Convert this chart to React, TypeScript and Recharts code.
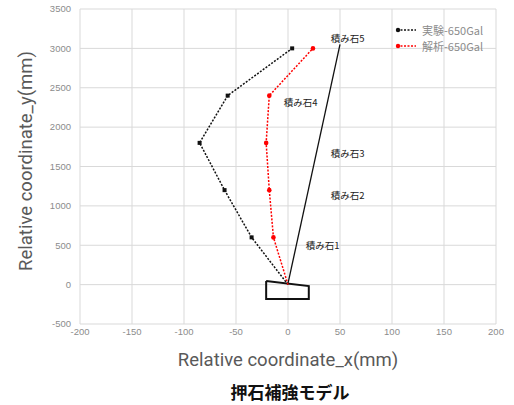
import React from "react";
import {
  ScatterChart,
  Scatter,
  XAxis,
  YAxis,
  CartesianGrid,
  Label,
} from "recharts";

// measured displacement (実験) and analysis (解析) at 650Gal
const EXP_X = [0, -35, -61, -85, -58, 4];
const EXP_Y = [0, 600, 1200, 1800, 2400, 3000];
const ANA_X = [0, -14, -18, -21, -18, 24];
const ANA_Y = [0, 600, 1200, 1800, 2400, 3000];

// initial wall line and the base stone outline
const WALL_X = [0, 50];
const WALL_Y = [15, 3050];
const BASE_X = [-21, 20, 20, -21, -21];
const BASE_Y = [46, -18, -183, -183, 46];

const STONE_NAMES = ["積み石1", "積み石2", "積み石3", "積み石4", "積み石5"];
const STONE_X = [17, 41, 41, -4, 41];
const STONE_Y = [505, 1140, 1670, 2320, 3130];

const X_TICKS = [-200, -150, -100, -50, 0, 50, 100, 150, 200];
const Y_TICKS = [-500, 0, 500, 1000, 1500, 2000, 2500, 3000, 3500];

const toPoints = (xs: number[], ys: number[]) =>
  xs.map((x, i) => ({ x, y: ys[i] }));

const expData = toPoints(EXP_X, EXP_Y);
const anaData = toPoints(ANA_X, ANA_Y);
const wallData = toPoints(WALL_X, WALL_Y);
const baseData = toPoints(BASE_X, BASE_Y);
const stoneData = STONE_NAMES.map((name, i) => ({
  x: STONE_X[i],
  y: STONE_Y[i],
  name,
}));

const TICK_STYLE = { fontSize: 9.5, fill: "#8c8c8c", fontFamily: "Liberation Sans" };
const AXIS_TITLE = { fontSize: 18.5, fill: "#595959", fontFamily: "Roboto" };

const Empty = () => <g />;

// the origin point is the pivot, drawn without a marker
const BlackMark = (p: any) =>
  p.payload.y === 0 ? (
    <g />
  ) : (
    <rect x={p.cx - 2} y={p.cy - 2} width={4} height={4} fill="#111" />
  );
const RedMark = (p: any) =>
  p.payload.y === 0 ? <g /> : <circle cx={p.cx} cy={p.cy} r={2.3} fill="#ff0000" />;

const StoneLabel = (p: any) => (
  <text
    x={p.cx}
    y={p.cy}
    dominantBaseline="central"
    fontSize={9.5}
    fill="#222"
    fontFamily="Noto Sans CJK JP"
  >
    {p.payload.name}
  </text>
);

const XTitle = (p: any) => {
  const vb = p.viewBox;
  return (
    <text x={vb.x + vb.width / 2} y={366} textAnchor="middle" {...AXIS_TITLE}>
      Relative coordinate_x(mm)
    </text>
  );
};

const YTitle = () => (
  <text
    x={32}
    y={161}
    textAnchor="middle"
    transform="rotate(-90, 32, 161)"
    {...AXIS_TITLE}
  >
    Relative coordinate_y(mm)
  </text>
);

const LEGEND = [
  { name: "実験-650Gal", color: "#111" },
  { name: "解析-650Gal", color: "#ff0000" },
];

export default function App() {
  return (
    <div
      style={{
        position: "absolute",
        left: 0,
        top: 0,
        width: 514,
        height: 405,
        background: "#fff",
      }}
    >
      <ScatterChart
        width={514}
        height={405}
        margin={{ top: 9, right: 18, bottom: 36, left: 0 }}
      >
        <CartesianGrid stroke="#d9d9d9" strokeWidth={1} />
        <XAxis
          type="number"
          dataKey="x"
          domain={[-200, 200]}
          ticks={X_TICKS}
          axisLine={false}
          tickLine={false}
          tick={{ ...TICK_STYLE, dy: -2 }}
          tickMargin={0}
          height={45}
          allowDataOverflow
        >
          <Label content={XTitle} />
        </XAxis>
        <YAxis
          type="number"
          dataKey="y"
          domain={[-500, 3500]}
          ticks={Y_TICKS}
          axisLine={false}
          tickLine={false}
          tick={TICK_STYLE}
          tickMargin={3}
          width={80}
          allowDataOverflow
        >
          <Label content={YTitle} />
        </YAxis>
        <Scatter
          data={baseData}
          line={{ stroke: "#111", strokeWidth: 2 }}
          shape={Empty}
          isAnimationActive={false}
        />
        <Scatter
          data={wallData}
          line={{ stroke: "#111", strokeWidth: 1.3 }}
          shape={Empty}
          isAnimationActive={false}
        />
        <Scatter
          name="実験-650Gal"
          data={expData}
          line={{ stroke: "#111", strokeWidth: 1.5, strokeDasharray: "2 1.5" }}
          shape={BlackMark}
          isAnimationActive={false}
        />
        <Scatter
          name="解析-650Gal"
          data={anaData}
          line={{ stroke: "#ff0000", strokeWidth: 1.5, strokeDasharray: "2 1.5" }}
          shape={RedMark}
          isAnimationActive={false}
        />
        <Scatter data={stoneData} shape={StoneLabel} isAnimationActive={false} />
      </ScatterChart>

      {/* legend, top right */}
      <div style={{ position: "absolute", left: 394, top: 22 }}>
        {LEGEND.map((l) => (
          <div
            key={l.name}
            style={{ display: "flex", alignItems: "center", height: 16 }}
          >
            <svg width={26} height={10}>
              <line
                x1={3}
                y1={5}
                x2={22}
                y2={5}
                stroke={l.color}
                strokeWidth={1.5}
                strokeDasharray="2 1.5"
              />
              <circle cx={4} cy={5} r={2.2} fill={l.color} />
            </svg>
            <span
              style={{
                fontSize: 11,
                color: "#8c8c8c",
                fontFamily: "Noto Sans CJK JP",
                marginLeft: 2,
              }}
            >
              {l.name}
            </span>
          </div>
        ))}
      </div>

      <div
        style={{
          position: "absolute",
          left: 0,
          top: 379,
          width: 580,
          textAlign: "center",
          fontSize: 17,
          fontWeight: "bold",
          fontFamily: "Noto Sans CJK JP",
          color: "#111",
        }}
      >
        押石補強モデル
      </div>
    </div>
  );
}
